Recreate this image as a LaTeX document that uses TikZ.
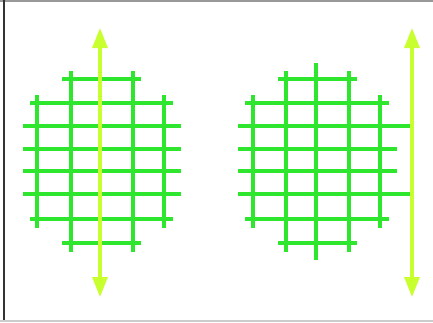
\documentclass[tikz,border=0pt]{standalone}
\usepackage{xcolor}
\usetikzlibrary{arrows.meta}
\definecolor{gridgreen}{HTML}{2EE62E}
\definecolor{axisyellow}{HTML}{C8FF2E}

\begin{document}
\begin{tikzpicture}[x=1pt, y=-1pt,
    grid/.style={gridgreen, line width=3.2pt},
    axis/.style={axisyellow, line width=3.2pt, {Triangle[length=20pt, width=15pt]}-{Triangle[length=20pt, width=15pt]}}]
    \useasboundingbox (0, 0) rectangle (433, 322);

    % Frame
    \draw[gray!80, line width=1.5pt] (0, 1) -- (433, 1);
    \draw[black!80, line width=1.5pt] (4, 0) -- (4, 322);
    \draw[gray!40, line width=1.5pt] (0, 321) -- (433, 321);

    % Left grid, axis through the middle
    \draw[grid] (62, 79) -- (141, 79);
    \draw[grid] (30, 103) -- (173, 103);
    \foreach \y in {126, 149, 171, 194}
        \draw[grid] (23, \y) -- (181, \y);
    \draw[grid] (30, 219) -- (173, 219);
    \draw[grid] (62, 243) -- (141, 243);
    \draw[grid] (37, 95) -- (37, 228);
    \draw[grid] (71, 71) -- (71, 252);
    \draw[grid] (133, 71) -- (133, 252);
    \draw[grid] (164, 95) -- (164, 228);
    \draw[axis] (100, 297) -- (100, 28);

    % Right grid, axis at the side
    \draw[grid] (278, 79) -- (357, 79);
    \draw[grid] (245, 103) -- (389, 103);
    \draw[grid] (238, 126) -- (412, 126);
    \draw[grid] (238, 149) -- (397, 149);
    \draw[grid] (238, 171) -- (397, 171);
    \draw[grid] (238, 194) -- (412, 194);
    \draw[grid] (245, 219) -- (389, 219);
    \draw[grid] (278, 243) -- (357, 243);
    \draw[grid] (253, 95) -- (253, 228);
    \draw[grid] (286, 71) -- (286, 252);
    \draw[grid] (316, 63) -- (316, 260);
    \draw[grid] (349, 71) -- (349, 252);
    \draw[grid] (380, 95) -- (380, 228);
    \draw[axis] (412, 297) -- (412, 28);

\end{tikzpicture}
\end{document}
